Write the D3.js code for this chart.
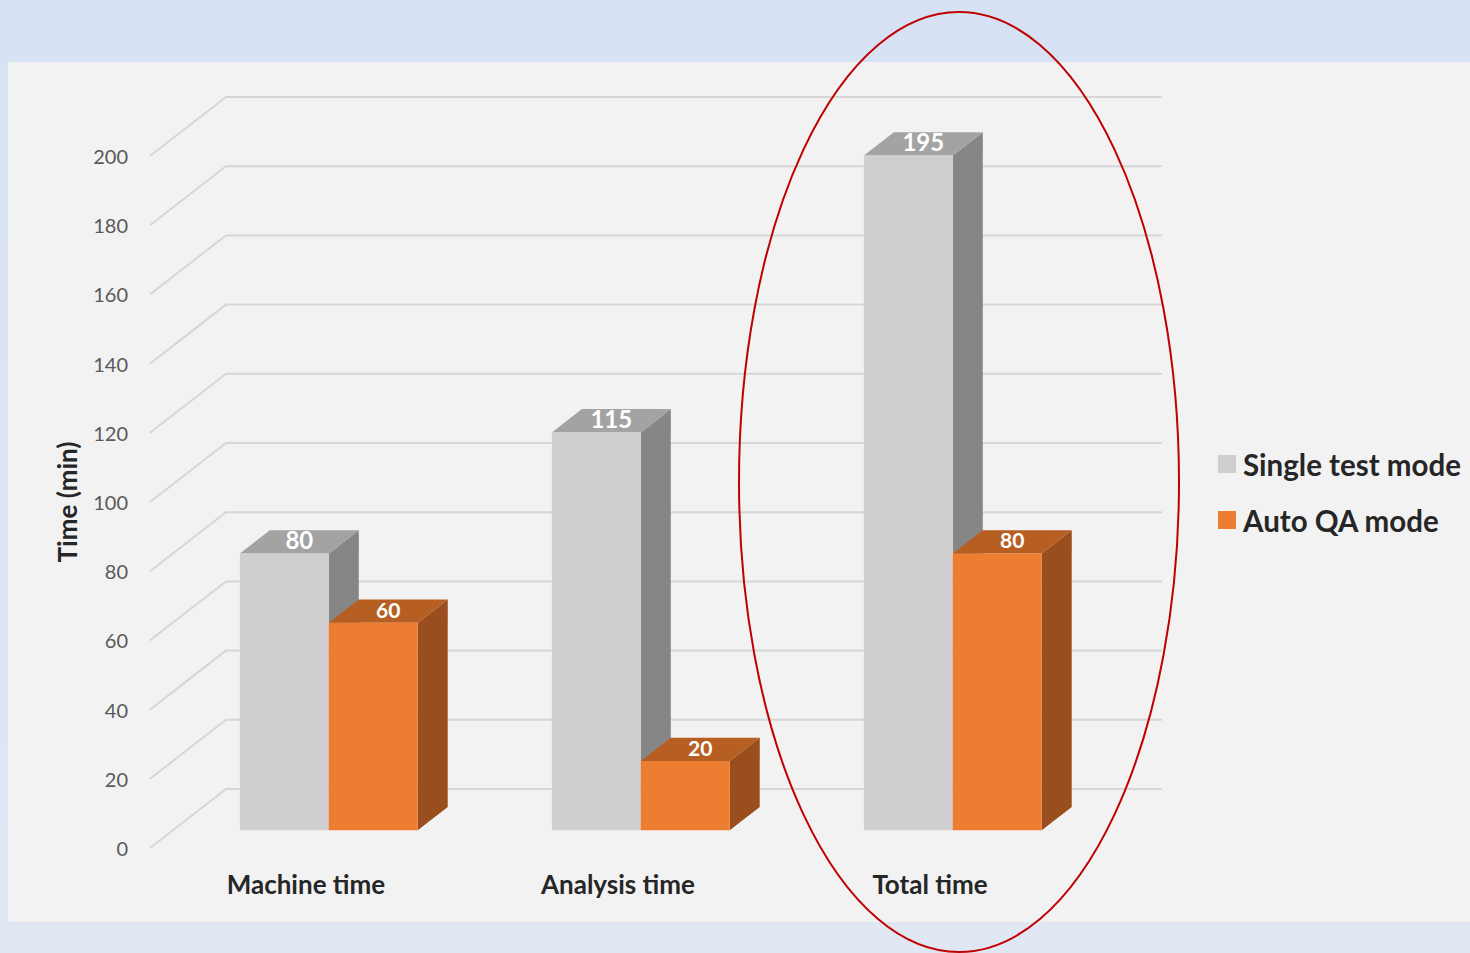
<!DOCTYPE html>
<html>
<head>
<meta charset="utf-8">
<script src="https://cdn.jsdelivr.net/npm/d3@7"></script>
<style>
  html, body { margin: 0; padding: 0; overflow: hidden; }
  svg { display: block; }
</style>
</head>
<body>
<svg id="chart" width="1470" height="953"></svg>
<script>
// Data
const categories = ["Machine time", "Analysis time", "Total time"];
const seriesNames = ["Single test mode", "Auto QA mode"];
const singleTest = [80, 115, 195];
const autoQA = [60, 20, 80];
const yTicks = [0, 20, 40, 60, 80, 100, 120, 140, 160, 180, 200];

const seriesValues = [singleTest, autoQA];
const colors = [
  { front: "#d0cece", top: "#a3a3a3", side: "#878686" },
  { front: "#ed7d31", top: "#b75e22", side: "#9a4e1d" }
];

const svg = d3.select("#chart");
const W = 1470, H = 953;

// Page background and chart panel
const defs = svg.append("defs");
const bg = defs.append("linearGradient").attr("id", "bg").attr("x1", 0).attr("y1", 0).attr("x2", 0).attr("y2", 1);
bg.append("stop").attr("offset", "0%").attr("stop-color", "#d6e2f4");
bg.append("stop").attr("offset", "100%").attr("stop-color", "#e0e7f3");
svg.append("rect").attr("width", W).attr("height", H).attr("fill", "url(#bg)");
svg.append("rect").attr("x", 8).attr("y", 62).attr("width", W - 8).attr("height", 860).attr("fill", "#f2f2f2");

// Scales on the front plane; depth is projected by an oblique offset
const y = d3.scaleLinear().domain([0, 200]).range([848, 156]);
const x = d3.scaleBand().domain(categories).range([150, 1086]).paddingInner(0.43).paddingOuter(0.215);
const xs = d3.scaleBand().domain(d3.range(seriesNames.length)).range([0, x.bandwidth()]);
const depthDX = 76, depthDY = -59;
const proj = (px, v, d) => [px + d * depthDX, y(v) + d * depthDY];
const barFront = 0.3, barBack = 0.3 + 30 / 76;

// Walls: gridlines running along the side wall and across the back wall
const grid = svg.append("g");
yTicks.forEach(v => {
  const p0 = proj(150, v, 0), p1 = proj(150, v, 1), p2 = proj(1086, v, 1);
  grid.append("polyline")
    .attr("points", [p0, p1, p2].map(p => p.join(",")).join(" "))
    .attr("fill", "none").attr("stroke", "#d6d6d6").attr("stroke-width", 2);
});

// Y tick labels
svg.append("g").selectAll("text").data(yTicks).join("text")
  .attr("x", 128).attr("y", d => y(d))
  .attr("text-anchor", "end").attr("dominant-baseline", "central")
  .attr("font-family", "Lato, sans-serif").attr("font-size", 20)
  .attr("fill", "#595959").text(d => d);

// Y axis title
svg.append("text")
  .attr("transform", "translate(67,502) rotate(-90)")
  .attr("text-anchor", "middle").attr("dominant-baseline", "central")
  .attr("font-family", "Lato, sans-serif").attr("font-weight", "bold").attr("font-size", 26)
  .attr("fill", "#262626").text("Time (min)");

// 3D bars, drawn left to right so each bar covers its neighbour's side face
const bars = svg.append("g");
const poly = pts => pts.map(p => p.join(",")).join(" ");
categories.forEach((cat, ci) => {
  seriesValues.forEach((vals, si) => {
    const v = vals[ci];
    const x0 = x(cat) + xs(si), x1 = x0 + xs.bandwidth();
    const c = colors[si];
    const fbl = proj(x0, 0, barFront), fbr = proj(x1, 0, barFront);
    const ftl = proj(x0, v, barFront), ftr = proj(x1, v, barFront);
    const btl = proj(x0, v, barBack), btr = proj(x1, v, barBack), bbr = proj(x1, 0, barBack);
    bars.append("polygon").attr("points", poly([fbr, ftr, btr, bbr])).attr("fill", c.side);
    bars.append("polygon").attr("points", poly([ftl, ftr, btr, btl])).attr("fill", c.top);
    bars.append("polygon").attr("points", poly([fbl, fbr, ftr, ftl])).attr("fill", c.front);
    // value label on the top face
    const cx = (ftl[0] + ftr[0] + btl[0] + btr[0]) / 4;
    const cy = (ftl[1] + btl[1]) / 2;
    bars.append("text")
      .attr("x", cx).attr("y", cy - 2)
      .attr("text-anchor", "middle").attr("dominant-baseline", "central")
      .attr("font-family", "Lato, sans-serif").attr("font-weight", "bold")
      .attr("font-size", si === 0 ? 24 : 21)
      .attr("fill", "#ffffff").text(v);
  });
});

// Category labels along the front edge of the floor
svg.append("g").selectAll("text").data(categories).join("text")
  .attr("x", d => x(d) + x.bandwidth() / 2).attr("y", 884)
  .attr("text-anchor", "middle").attr("dominant-baseline", "central")
  .attr("font-family", "Lato, sans-serif").attr("font-weight", "bold").attr("font-size", 26)
  .attr("fill", "#262626").text(d => d);

// Legend
const legend = svg.append("g").attr("transform", "translate(1218,464)");
seriesNames.forEach((name, i) => {
  const g = legend.append("g").attr("transform", `translate(0,${i * 56})`);
  g.append("rect").attr("x", 0).attr("y", -9).attr("width", 18).attr("height", 18).attr("fill", colors[i].front);
  g.append("text").attr("x", 25).attr("y", 0).attr("dominant-baseline", "central")
    .attr("font-family", "Lato, sans-serif").attr("font-weight", "bold").attr("font-size", 29.5)
    .attr("fill", "#262626").text(name);
});

// Highlight ring around the total
svg.append("ellipse")
  .attr("cx", 959).attr("cy", 482).attr("rx", 220).attr("ry", 470)
  .attr("fill", "none").attr("stroke", "#c00000").attr("stroke-width", 2);
</script>
</body>
</html>
